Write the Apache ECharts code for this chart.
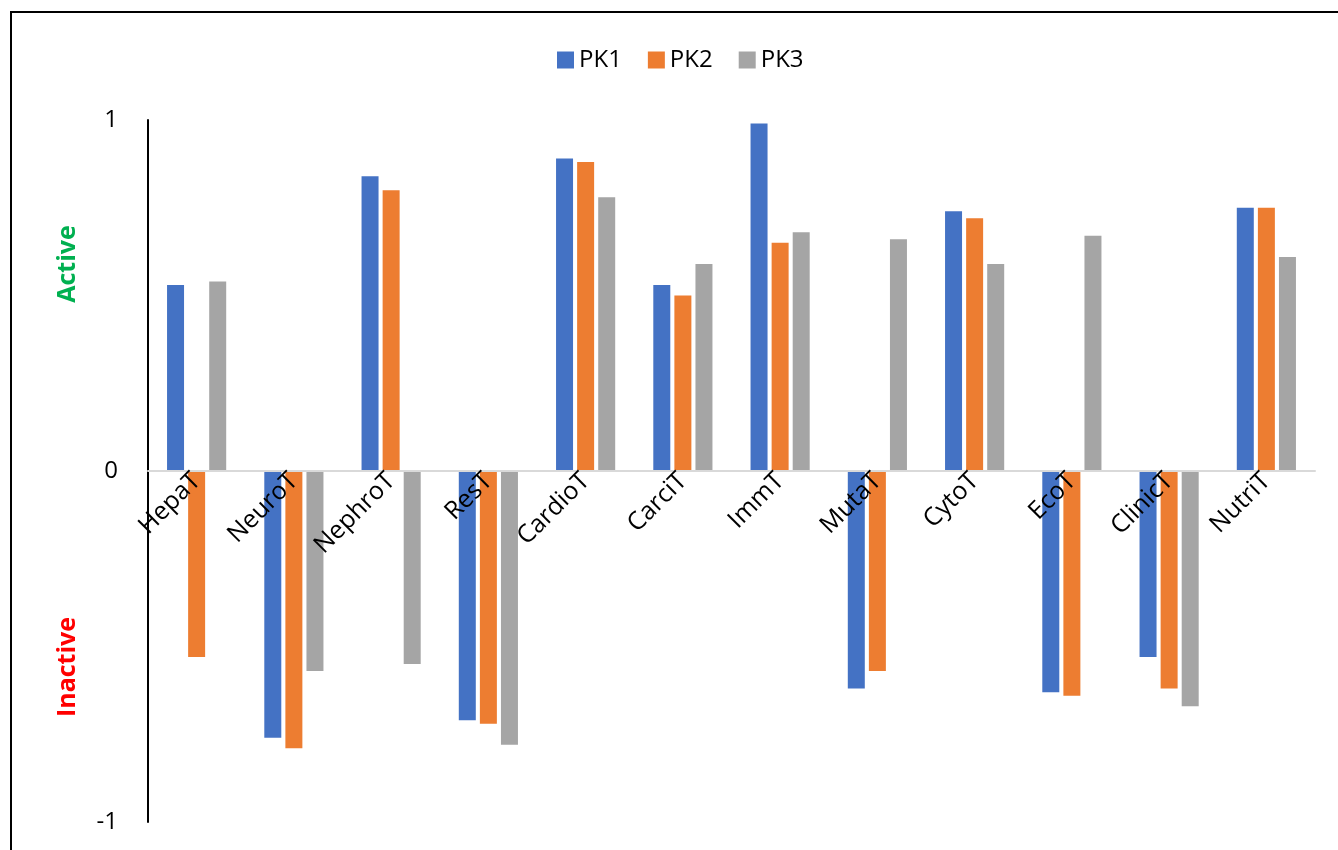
<!DOCTYPE html>
<html>
<head>
<meta charset="utf-8">
<script src="https://cdn.jsdelivr.net/npm/echarts@6/dist/echarts.min.js"></script>
<style>
  html, body { margin: 0; padding: 0; background: #fff; }
  #chart { width: 1338px; height: 850px; }
</style>
</head>
<body>
<div id="chart"></div>
<script>
// Toxicity endpoints and predicted scores per compound
var categories = ['HepaT', 'NeuroT', 'NephroT', 'ResT', 'CardioT', 'CarciT', 'ImmT', 'MutaT', 'CytoT', 'EcoT', 'ClinicT', 'NutriT'];
var pk1 = [0.53, -0.76, 0.84, -0.71, 0.89, 0.53, 0.99, -0.62, 0.74, -0.63, -0.53, 0.75];
var pk2 = [-0.53, -0.79, 0.80, -0.72, 0.88, 0.50, 0.65, -0.57, 0.72, -0.64, -0.62, 0.75];
var pk3 = [0.54, -0.57, -0.55, -0.78, 0.78, 0.59, 0.68, 0.66, 0.59, 0.67, -0.67, 0.61];
var seriesNames = ['PK1', 'PK2', 'PK3'];
var colors = ['#4472C4', '#ED7D31', '#A5A5A5'];

var font = '"Open Sans", "Noto Sans", sans-serif';
var gridTop = 120, gridBottom = 28, height = 850;
// half of the plot height: moves the category axis up to the zero line
var halfPlot = (height - gridTop - gridBottom) / 2;

var myChart = echarts.init(document.getElementById('chart'));

var option = {
    animation: false,
    color: colors,
    textStyle: { fontFamily: font },
    legend: {
        top: 43,
        left: 552,
        itemWidth: 17,
        itemHeight: 17,
        itemGap: 26,
        icon: 'rect',
        textStyle: { fontSize: 24, color: '#000', fontFamily: font }
    },
    grid: { left: 148, right: 23, top: gridTop, bottom: gridBottom, outerBoundsMode: 'none', containLabel: false },
    xAxis: {
        type: 'category',
        data: categories,
        offset: -halfPlot,
        z: 5,
        axisTick: { show: false },
        axisLine: { onZero: false, lineStyle: { color: '#d9d9d9', width: 2 } },
        axisLabel: {
            rotate: 45,
            margin: 6,
            interval: 0,
            fontSize: 25,
            color: '#000',
            fontFamily: font
        }
    },
    yAxis: {
        type: 'value',
        min: -1,
        max: 1,
        interval: 1,
        splitLine: { show: false },
        axisTick: { show: false },
        axisLine: { show: true, lineStyle: { color: '#000', width: 2 } },
        axisLabel: { fontSize: 24, color: '#000', margin: 30, fontFamily: font }
    },
    series: [pk1, pk2, pk3].map(function (vals, i) {
        return {
            name: seriesNames[i],
            type: 'bar',
            data: vals,
            barWidth: 17,
            barGap: '24%'
        };
    }),
    graphic: [
        {
            type: 'rect',
            shape: { x: 11, y: 12, width: 1340, height: 850 },
            style: { fill: 'none', stroke: '#000', lineWidth: 2 },
            silent: true
        },
        {
            type: 'text',
            x: 68, y: 264,
            rotation: Math.PI / 2,
            style: {
                text: 'Active',
                fill: '#00B050',
                font: 'bold 25px ' + font,
                align: 'center',
                verticalAlign: 'middle'
            }
        },
        {
            type: 'text',
            x: 68, y: 667,
            rotation: Math.PI / 2,
            style: {
                text: 'Inactive',
                fill: '#FF0000',
                font: 'bold 25px ' + font,
                align: 'center',
                verticalAlign: 'middle'
            }
        }
    ]
};
myChart.setOption(option);
</script>
</body>
</html>
